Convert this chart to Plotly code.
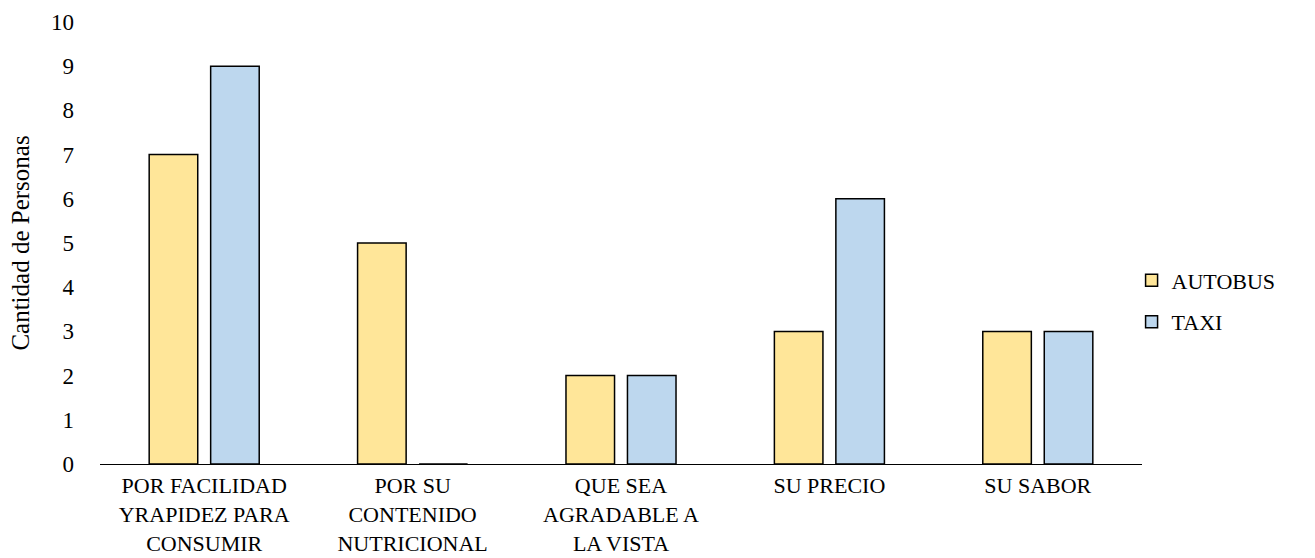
import plotly.graph_objects as go

categorias = [
    "POR FACILIDAD<br>YRAPIDEZ PARA<br>CONSUMIR",
    "POR SU<br>CONTENIDO<br>NUTRICIONAL",
    "QUE SEA<br>AGRADABLE A<br>LA VISTA",
    "SU PRECIO",
    "SU SABOR",
]
autobus = [7, 5, 2, 3, 3]
taxi = [9, 0, 2, 6, 3]
y_ticks = list(range(0, 11))

fuente = "Liberation Serif, Times New Roman, serif"

fig = go.Figure()
fig.add_trace(go.Bar(
    name="AUTOBUS", x=categorias, y=autobus, legendgroup="autobus",
    marker=dict(color="#FFE699", line=dict(color="#000000", width=1.5)),
))
fig.add_trace(go.Bar(
    name="TAXI", x=categorias, y=taxi, legendgroup="taxi",
    marker=dict(color="#BDD7EE", line=dict(color="#000000", width=1.5)),
))

fig.update_layout(
    width=1315, height=558,
    margin=dict(l=100, r=173, t=22, b=94),
    paper_bgcolor="white", plot_bgcolor="white",
    barmode="group", bargap=0.41, bargroupgap=0.21,
    font=dict(family=fuente, size=23, color="#000000"),
    legend=dict(
        x=0.99, y=0.368, xanchor="left", yanchor="middle",
        font=dict(family=fuente, size=22), tracegroupgap=10,
        itemwidth=30,
    ),
    xaxis=dict(
        showline=True, linecolor="#000000", linewidth=1, automargin=False,
        showgrid=False, ticks="", ticklabelstandoff=2,
        tickfont=dict(family=fuente, size=22),
    ),
    yaxis=dict(
        range=[0, 10], tickvals=y_ticks, showgrid=False, showline=False,
        zeroline=False, ticks="", ticklabelstandoff=25, automargin=False,
        tickfont=dict(family=fuente, size=23),
        title=dict(text="Cantidad de Personas", font=dict(family=fuente, size=25), standoff=14),
    ),
)

fig.write_html("out.html")
